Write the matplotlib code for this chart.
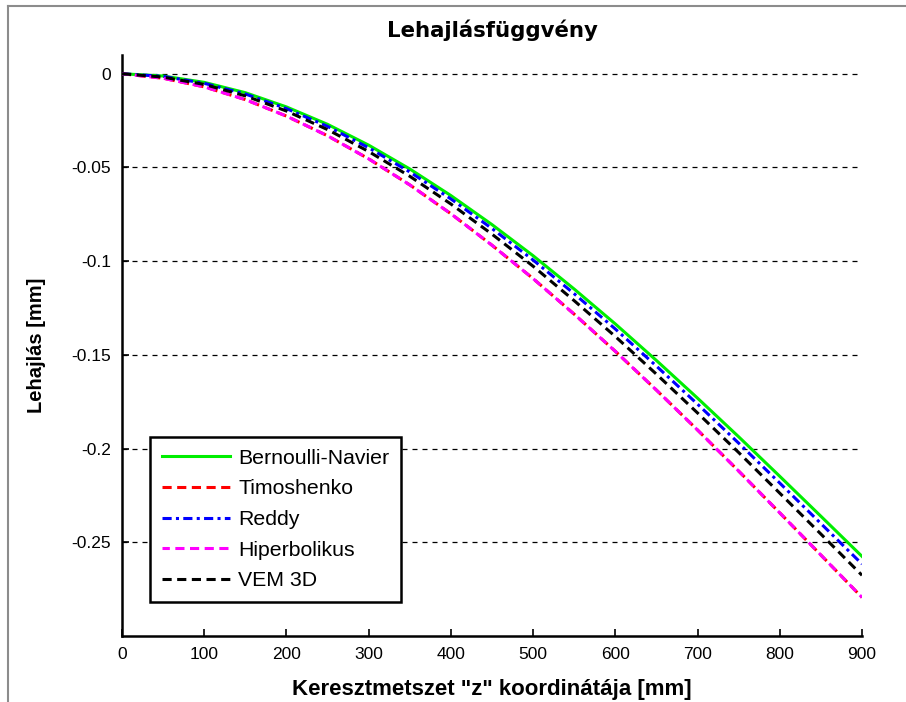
import matplotlib
matplotlib.use("Agg")
import matplotlib.pyplot as plt
from matplotlib.lines import Line2D

# cross-section coordinate z [mm]
z = [0, 50, 100, 150, 200, 250, 300, 350, 400, 450,
     500, 550, 600, 650, 700, 750, 800, 850, 900]

# deflection [mm]
bernoulli = [0, -0.0012, -0.0046, -0.0101, -0.0177, -0.0270, -0.0381, -0.0508, -0.0650, -0.0805,
             -0.0971, -0.1149, -0.1335, -0.1530, -0.1731, -0.1937, -0.2148, -0.2361, -0.2575]
timoshenko = [0, -0.0024, -0.0070, -0.0138, -0.0226, -0.0331, -0.0454, -0.0593, -0.0747, -0.0915,
              -0.1093, -0.1283, -0.1481, -0.1688, -0.1901, -0.2120, -0.2343, -0.2568, -0.2794]
reddy = [0, -0.0014, -0.0051, -0.0108, -0.0186, -0.0281, -0.0395, -0.0524, -0.0668, -0.0826,
         -0.0994, -0.1174, -0.1362, -0.1560, -0.1763, -0.1971, -0.2184, -0.2400, -0.2616]
hiperbolikus = [0, -0.0024, -0.0070, -0.0138, -0.0226, -0.0331, -0.0454, -0.0593, -0.0747, -0.0915,
                -0.1093, -0.1283, -0.1481, -0.1688, -0.1901, -0.2120, -0.2343, -0.2568, -0.2794]
vem3d = [0, -0.0018, -0.0057, -0.0118, -0.0199, -0.0298, -0.0415, -0.0547, -0.0695, -0.0856,
         -0.1027, -0.1211, -0.1402, -0.1603, -0.1810, -0.2021, -0.2238, -0.2456, -0.2676]

xticks = [0, 100, 200, 300, 400, 500, 600, 700, 800, 900]
yticks = [0, -0.05, -0.1, -0.15, -0.2, -0.25]
ytick_labels = ["0", "-0.05", "-0.1", "-0.15", "-0.2", "-0.25"]

plt.rcParams["font.family"] = ["Liberation Sans", "DejaVu Sans"]

fig = plt.figure(figsize=(9.06, 7.02), dpi=100)
ax = fig.add_axes([122 / 906, 66 / 702, 740 / 906, 581 / 702])

lw = 2.2
ax.plot(z, bernoulli, color="#00ee00", lw=lw, label="Bernoulli-Navier", zorder=3)
ax.plot(z, timoshenko, color="#ff0000", lw=lw, ls=(0, (3, 1.8)), label="Timoshenko", zorder=3)
ax.plot(z, reddy, color="#0000ff", lw=lw, ls=(0, (3, 1.4, 1, 1.4)), label="Reddy", zorder=3)
ax.plot(z, hiperbolikus, color="#ff00ff", lw=lw, ls=(0.6, (3, 1.8)), label="Hiperbolikus", zorder=3)
ax.plot(z, vem3d, color="black", lw=lw, ls=(0, (3, 1.8)), label="VEM 3D", zorder=3)

ax.set_xlim(0, 900)
ax.set_ylim(-0.30, 0.01)
ax.set_xticks(xticks)
ax.set_yticks(yticks)
ax.set_yticklabels(ytick_labels)
ax.tick_params(direction="in", length=5, width=1.2, labelsize=12.5, pad=8, colors="black")

ax.yaxis.grid(True, color="black", ls=(0, (4, 4)), lw=0.9)
ax.xaxis.grid(False)
ax.set_axisbelow(True)

for side in ["top", "right"]:
    ax.spines[side].set_visible(False)
for side in ["left", "bottom"]:
    ax.spines[side].set_linewidth(1.8)
    ax.spines[side].set_color("black")

ax.set_title("Lehajlásfüggvény", fontsize=15.3, fontweight="bold",
             family="DejaVu Sans", pad=13)
ax.set_xlabel('Keresztmetszet "z" koordinátája [mm]', fontsize=16, fontweight="bold", labelpad=12)
ax.set_ylabel("Lehajlás [mm]", fontsize=14.5, fontweight="bold", labelpad=18)

leg = ax.legend(loc="upper left", bbox_to_anchor=(28 / 740, 199 / 581), borderaxespad=0,
                fontsize=15.3, fancybox=False, framealpha=1, edgecolor="black",
                handlelength=3.2, handletextpad=0.4, labelspacing=0.55, borderpad=0.55)
leg.get_frame().set_linewidth(1.8)
leg.set_zorder(5)

# grey window frame of the original screenshot
fig.add_artist(Line2D([8 / 906, 8 / 906], [0, 1 - 6 / 702], color="#8c8c8c", lw=1.5))
fig.add_artist(Line2D([8 / 906, 1], [1 - 6 / 702, 1 - 6 / 702], color="#8c8c8c", lw=1.5))

fig.savefig("out.png", dpi=100, facecolor="white")
